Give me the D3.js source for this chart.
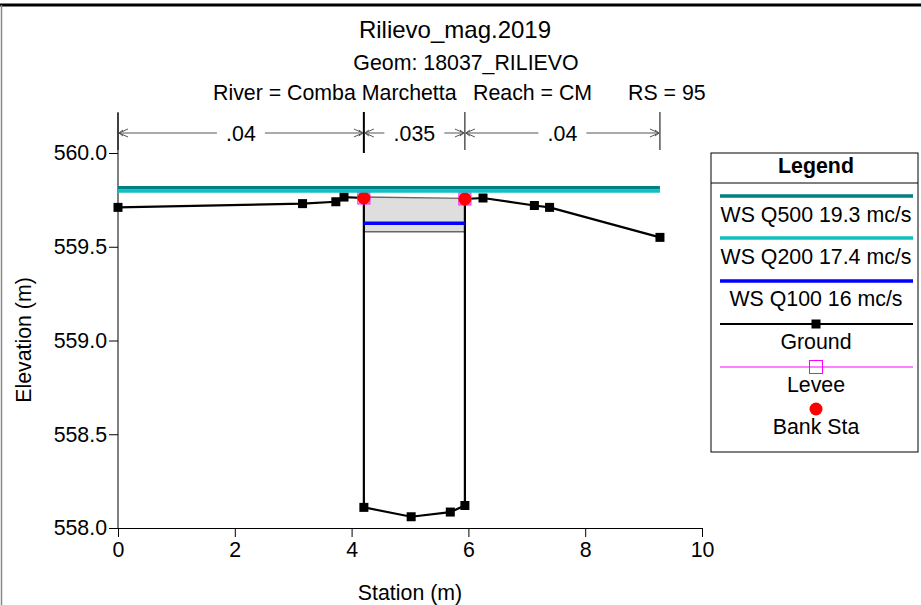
<!DOCTYPE html>
<html>
<head>
<meta charset="utf-8">
<script src="https://cdn.jsdelivr.net/npm/d3@7"></script>
<style>
  html, body { margin: 0; padding: 0; background: #fff; }
  svg { display: block; font-family: "Liberation Sans", Arial, sans-serif; }
</style>
</head>
<body>
<svg id="chart" width="921" height="605"></svg>
<script>
// Cross section data (station in m, elevation in m)
const groundSta  = [0, 3.16, 3.73, 3.87, 4.21, 4.21, 5.02, 5.69, 5.94, 5.94, 6.25, 7.13, 7.39, 9.28];
const groundElev = [559.71, 559.73, 559.74, 559.765, 559.76, 558.11, 558.06, 558.085, 558.12, 559.755, 559.76, 559.72, 559.71, 559.55];

// Bank stations / levees
const bankSta  = [4.21, 5.94];
const bankElev = [559.76, 559.755];

// Bridge deck: high chord and low chord between the abutments
const deckSta  = [4.21, 5.94];
const deckHigh = [559.765, 559.758];
const deckLow  = [559.58, 559.58];

// Water surfaces
const wsNames  = ["WS Q500 19.3 mc/s", "WS Q200 17.4 mc/s", "WS Q100 16 mc/s"];
const wsElev   = [559.815, 559.797, 559.625];
const wsFrom   = [0, 0, 4.21];
const wsTo     = [9.28, 9.28, 5.94];
const wsColors = ["#008080", "#10C0C0", "#0000FF"];

// Manning's n regions
const nBreaks = [0, 4.21, 5.94, 9.28];
const nValues = [".04", ".035", ".04"];

// Axis ticks
const xMajor = [0, 2, 4, 6, 8, 10];
const yMajor = [558.0, 558.5, 559.0, 559.5, 560.0];

const FS = 21.33;   // 16pt body text
const svg = d3.select("#chart");
const x = d3.scaleLinear().domain([0, 10]).range([118, 702]);
const y = d3.scaleLinear().domain([558, 560]).range([528, 153]);

// outer frame
svg.append("line").attr("x1", 0).attr("x2", 921).attr("y1", 5).attr("y2", 5)
  .attr("stroke", "#000").attr("stroke-width", 3);
svg.append("line").attr("x1", 1.5).attr("x2", 1.5).attr("y1", 5).attr("y2", 605)
  .attr("stroke", "#888").attr("stroke-width", 1.5);

// titles
svg.append("text").attr("x", 455).attr("y", 38).attr("text-anchor", "middle")
  .attr("font-size", 24).text("Rilievo_mag.2019");
svg.append("text").attr("x", 466).attr("y", 70).attr("text-anchor", "middle")
  .attr("font-size", FS).text("Geom: 18037_RILIEVO");
svg.append("text").attr("x", 213).attr("y", 100).attr("font-size", FS).text("River = Comba Marchetta");
svg.append("text").attr("x", 473).attr("y", 100).attr("font-size", FS).text("Reach = CM");
svg.append("text").attr("x", 628).attr("y", 100).attr("font-size", FS).text("RS = 95");

// axes
const minorX = d3.range(0, 10.001, 0.4);
const minorY = d3.range(558, 560.001, 0.1);

const gx = svg.append("g").attr("transform", `translate(0,${y(558)})`);
gx.call(d3.axisBottom(x).tickValues(minorX).tickSize(5).tickFormat(""));
gx.call(d3.axisBottom(x).tickValues(xMajor).tickSize(9).tickPadding(5).tickFormat(d3.format("d")));
gx.selectAll("text").attr("font-size", FS).attr("font-family", "Liberation Sans, Arial, sans-serif").attr("fill", "#000");

const gy = svg.append("g").attr("transform", `translate(${x(0)},0)`);
gy.call(d3.axisLeft(y).tickValues(minorY).tickSize(5).tickFormat(""));
gy.call(d3.axisLeft(y).tickValues(yMajor).tickSize(9).tickPadding(2).tickFormat(d3.format(".1f")));
gy.selectAll("text").attr("font-size", FS).attr("font-family", "Liberation Sans, Arial, sans-serif").attr("fill", "#000");
gy.select(".domain").remove();
svg.append("line").attr("x1", x(0)).attr("x2", x(0)).attr("y1", 113).attr("y2", y(558))
  .attr("stroke", "#000").attr("stroke-width", 1);
svg.selectAll(".domain").attr("stroke", "#000");

svg.append("text").attr("x", 410).attr("y", 600).attr("text-anchor", "middle")
  .attr("font-size", FS).text("Station (m)");
svg.append("text").attr("transform", "translate(31,340) rotate(-90)").attr("text-anchor", "middle")
  .attr("font-size", FS).text("Elevation (m)");

// Manning's n bar
const nY = 133;
nBreaks.forEach((s, i) => {
  svg.append("line").attr("x1", x(s)).attr("x2", x(s)).attr("y1", 112).attr("y2", i === 1 ? 153 : 150)
    .attr("stroke", "#000").attr("stroke-width", i === 1 ? 2 : 1);
});
function arrowHead(px, dir) {
  // open chevron arrow head, dir = -1 points left, +1 points right
  svg.append("path")
    .attr("d", `M${px - dir * 9},${nY - 4} L${px},${nY} L${px - dir * 9},${nY + 4} M${px - dir * 4},${nY - 3} L${px},${nY} L${px - dir * 4},${nY + 3}`)
    .attr("fill", "none").attr("stroke", "#555").attr("stroke-width", 1);
}
nValues.forEach((v, i) => {
  const a = x(nBreaks[i]) + 1, b = x(nBreaks[i + 1]) - 1, m = (a + b) / 2;
  const half = v.length * 6 + 6;
  svg.append("line").attr("x1", a).attr("x2", m - half).attr("y1", nY).attr("y2", nY).attr("stroke", "#555");
  svg.append("line").attr("x1", m + half).attr("x2", b).attr("y1", nY).attr("y2", nY).attr("stroke", "#555");
  arrowHead(a, -1);
  arrowHead(b, 1);
  svg.append("text").attr("x", m).attr("y", nY + 8).attr("text-anchor", "middle")
    .attr("font-size", FS).text(v);
});

// bridge deck
const deckPts = deckSta.map((s, i) => [x(s), y(deckHigh[i])])
  .concat(deckSta.slice().reverse().map((s, i) => [x(s), y(deckLow[deckLow.length - 1 - i])]));
svg.append("polygon").attr("points", deckPts.map(p => p.join(",")).join(" "))
  .attr("fill", "#DEDEDE").attr("stroke", "none");
svg.append("line").attr("x1", x(deckSta[0])).attr("x2", x(deckSta[1]))
  .attr("y1", y(deckHigh[0])).attr("y2", y(deckHigh[1])).attr("stroke", "#666").attr("stroke-width", 1.5);
svg.append("line").attr("x1", x(deckSta[0])).attr("x2", x(deckSta[1]))
  .attr("y1", y(deckLow[0])).attr("y2", y(deckLow[1])).attr("stroke", "#666").attr("stroke-width", 1.5);

// ground
const ground = groundSta.map((s, i) => [s, groundElev[i]]);
svg.append("path").datum(ground)
  .attr("d", d3.line().x(d => x(d[0])).y(d => y(d[1])))
  .attr("fill", "none").attr("stroke", "#000").attr("stroke-width", 2.2);
svg.selectAll("rect.gpt").data(ground).enter().append("rect").attr("class", "gpt")
  .attr("x", d => x(d[0]) - 4.5).attr("y", d => y(d[1]) - 4.5)
  .attr("width", 9).attr("height", 9).attr("fill", "#000");

// levees and bank stations
bankSta.forEach((s, i) => {
  svg.append("rect").attr("x", x(s) - 6).attr("y", y(bankElev[i]) - 6).attr("width", 12).attr("height", 12)
    .attr("fill", "none").attr("stroke", "#FF00FF").attr("stroke-width", 1);
  svg.append("circle").attr("cx", x(s)).attr("cy", y(bankElev[i])).attr("r", 6.5).attr("fill", "#FF0000");
});

// water surfaces
wsElev.forEach((e, i) => {
  svg.append("line").attr("x1", x(wsFrom[i])).attr("x2", x(wsTo[i]))
    .attr("y1", y(e)).attr("y2", y(e)).attr("stroke", wsColors[i]).attr("stroke-width", 3.5);
});

// legend
const L = svg.append("g");
L.append("rect").attr("x", 711).attr("y", 153).attr("width", 207).attr("height", 299)
  .attr("fill", "#fff").attr("stroke", "#000").attr("stroke-width", 1);
L.append("line").attr("x1", 711).attr("x2", 918).attr("y1", 183).attr("y2", 183).attr("stroke", "#000");
L.append("text").attr("x", 816).attr("y", 173).attr("text-anchor", "middle")
  .attr("font-size", FS).attr("font-weight", "bold").text("Legend");
const lx1 = 720, lx2 = 913, lc = 816;
const wsLineY = [196, 238, 281];
const wsTextY = [222, 264, 306];
wsNames.forEach((n, i) => {
  L.append("line").attr("x1", lx1).attr("x2", lx2).attr("y1", wsLineY[i]).attr("y2", wsLineY[i])
    .attr("stroke", wsColors[i]).attr("stroke-width", 3.5);
  L.append("text").attr("x", lc).attr("y", wsTextY[i]).attr("text-anchor", "middle").attr("font-size", FS).text(n);
});
L.append("line").attr("x1", lx1).attr("x2", lx2).attr("y1", 324).attr("y2", 324).attr("stroke", "#000").attr("stroke-width", 2.2);
L.append("rect").attr("x", lc - 4.5).attr("y", 319.5).attr("width", 9).attr("height", 9).attr("fill", "#000");
L.append("text").attr("x", lc).attr("y", 349).attr("text-anchor", "middle").attr("font-size", FS).text("Ground");
L.append("line").attr("x1", lx1).attr("x2", lx2).attr("y1", 367).attr("y2", 367).attr("stroke", "#FF00FF").attr("stroke-width", 1);
L.append("rect").attr("x", lc - 6.5).attr("y", 360.5).attr("width", 13).attr("height", 13)
  .attr("fill", "none").attr("stroke", "#FF00FF").attr("stroke-width", 1);
L.append("text").attr("x", lc).attr("y", 392).attr("text-anchor", "middle").attr("font-size", FS).text("Levee");
L.append("circle").attr("cx", lc).attr("cy", 409).attr("r", 6.5).attr("fill", "#FF0000");
L.append("text").attr("x", lc).attr("y", 434).attr("text-anchor", "middle").attr("font-size", FS).text("Bank Sta");
</script>
</body>
</html>
